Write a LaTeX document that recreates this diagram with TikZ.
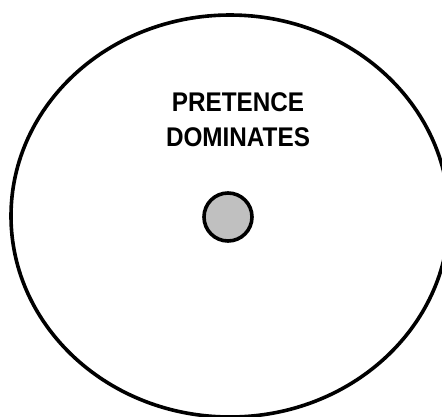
\documentclass[tikz,border=0pt]{standalone}
\usepackage{fontspec}
\setmainfont{Liberation Sans}
\definecolor{dotgray}{RGB}{192,192,192}
\usetikzlibrary{shapes.geometric,positioning}

\tikzset{
  outline/.style={draw=black, line width=3.6pt},
}

\begin{document}
\begin{tikzpicture}[x=1pt, y=-1pt]
    \useasboundingbox (0,0) rectangle (442,416);
    \node[outline, ellipse, inner sep=0pt, minimum width=438pt, minimum height=402pt] (world) at (230,216) {};
    \node[outline, circle, fill=dotgray, inner sep=0pt, minimum size=48pt] (dot) at (228,217) {};
    \node[align=center, inner sep=0pt, font=\bfseries\fontsize{27}{35}\selectfont,
          xscale=0.9, transform shape] (label) at (238,120) {PRETENCE\\DOMINATES};
  \end{tikzpicture}
\end{document}
